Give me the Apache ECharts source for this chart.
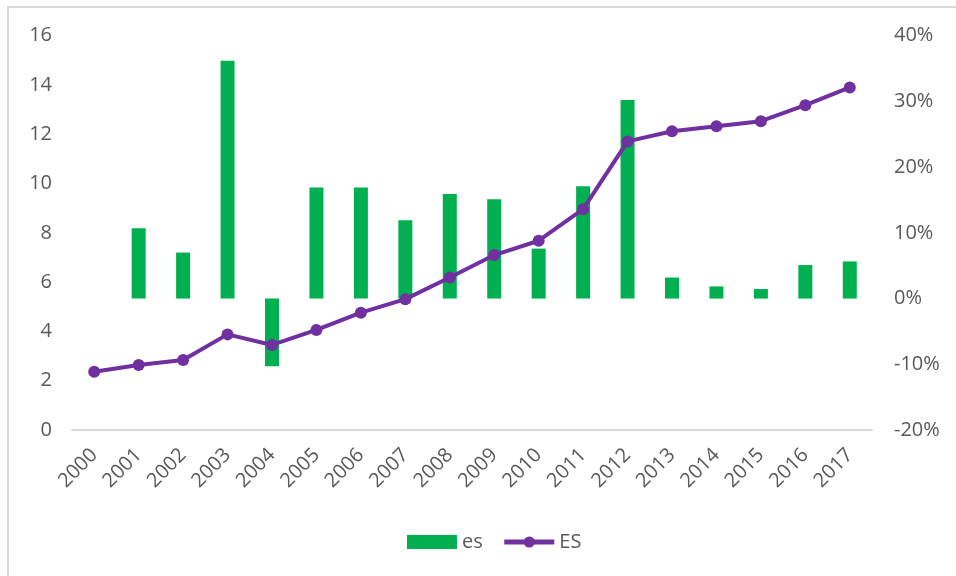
<!DOCTYPE html>
<html>
<head>
<meta charset="utf-8">
<script src="https://cdn.jsdelivr.net/npm/echarts@6/dist/echarts.min.js"></script>
<style>html,body{margin:0;padding:0;background:#fff}#c{width:956px;height:576px}</style>
</head>
<body>
<div id="c"></div>
<script>
const years = ['2000','2001','2002','2003','2004','2005','2006','2007','2008','2009','2010','2011','2012','2013','2014','2015','2016','2017'];
const esGrowth = [null, 10.7, 7.0, 36.2, -10.3, 16.9, 16.9, 11.9, 15.9, 15.1, 7.6, 17.1, 30.2, 3.2, 1.85, 1.45, 5.1, 5.65];
const esLevel = [2.36, 2.64, 2.84, 3.88, 3.45, 4.06, 4.76, 5.31, 6.19, 7.10, 7.68, 8.96, 11.71, 12.12, 12.33, 12.53, 13.18, 13.9];
const leftTicks = {min: 0, max: 16, interval: 2};
const rightTicks = {min: -20, max: 40, interval: 10};

const font = 'Open Sans';
const textColor = '#595959';
const chart = echarts.init(document.getElementById('c'), null, {renderer: 'canvas'});
chart.setOption({
  animation: false,
  backgroundColor: '#fff',
  graphic: [{
    type: 'rect', shape: {x: 8, y: 7, width: 1200, height: 1000},
    style: {fill: 'none', stroke: '#D9D9D9', lineWidth: 2}, silent: true
  }],
  grid: {left: 72, right: 84, top: 35.7, bottom: 146, containLabel: false},
  legend: {
    top: 527, left: 402,
    itemWidth: 50, itemHeight: 14, itemGap: 19,
    textStyle: {color: textColor, fontFamily: font, fontSize: 20},
    data: [{name: 'es', icon: 'rect'}, {name: 'ES', lineStyle: {width: 5}, itemStyle: {color: '#7030A0'}}]
  },
  xAxis: {
    type: 'category', data: years,
    axisLine: {lineStyle: {color: '#D9D9D9', width: 2}},
    axisTick: {show: false},
    axisLabel: {rotate: 45, color: textColor, fontFamily: font, fontSize: 20, margin: 22, interval: 0}
  },
  yAxis: [{
    type: 'value', min: leftTicks.min, max: leftTicks.max, interval: leftTicks.interval,
    splitLine: {show: false}, axisLine: {show: false}, axisTick: {show: false},
    axisLabel: {color: textColor, fontFamily: font, fontSize: 20, margin: 20}
  }, {
    type: 'value', position: 'right', min: rightTicks.min, max: rightTicks.max, interval: rightTicks.interval,
    splitLine: {show: false}, axisLine: {show: false}, axisTick: {show: false},
    axisLabel: {color: textColor, fontFamily: font, fontSize: 20, margin: 22, formatter: '{value}%'}
  }],
  series: [{
    name: 'es', type: 'bar', yAxisIndex: 1, data: esGrowth, barWidth: 14,
    itemStyle: {color: '#00B050'}, z: 2
  }, {
    name: 'ES', type: 'line', yAxisIndex: 0, data: esLevel,
    symbol: 'circle', symbolSize: 12,
    lineStyle: {color: '#7030A0', width: 4},
    itemStyle: {color: '#7030A0'}, z: 3
  }]
});
</script>
</body>
</html>
